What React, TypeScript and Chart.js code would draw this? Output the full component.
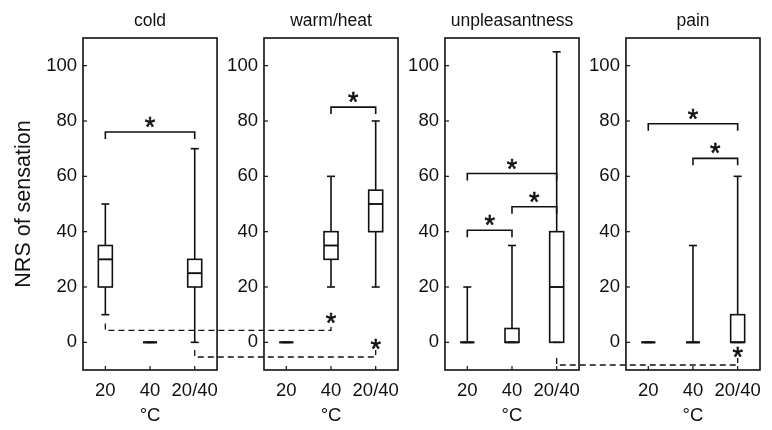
import React, { useEffect, useRef } from "react";
import { Chart, registerables } from "chart.js";

Chart.register(...registerables);

// ---------- data ----------
const panelTitles = ["cold", "warm/heat", "unpleasantness", "pain"];
const categories = ["20", "40", "20/40"];
const unitLabel = "°C";
const yAxisTitle = "NRS of sensation";
const yTickValues = [0, 20, 40, 60, 80, 100];
const yMin = -10;
const yMax = 110;

// [lower whisker, q1, median, q3, upper whisker] for 20, 40, 20/40
const coldStats = [
  [10, 20, 30, 35, 50],
  [0, 0, 0, 0, 0],
  [0, 20, 25, 30, 70],
];
const warmStats = [
  [0, 0, 0, 0, 0],
  [20, 30, 35, 40, 60],
  [20, 40, 50, 55, 80],
];
const unpleasantnessStats = [
  [0, 0, 0, 0, 20],
  [0, 0, 0, 5, 35],
  [0, 0, 20, 40, 105],
];
const painStats = [
  [0, 0, 0, 0, 0],
  [0, 0, 0, 0, 35],
  [0, 0, 0, 10, 60],
];
const panelStats = [coldStats, warmStats, unpleasantnessStats, painStats];

// significance brackets within a panel: [from category, to category, level]
const coldBrackets = [[0, 2, 76]];
const warmBrackets = [[1, 2, 85]];
const unpleasantnessBrackets = [
  [0, 2, 61],
  [1, 2, 49],
  [0, 1, 40.5],
];
const painBrackets = [
  [0, 2, 79],
  [1, 2, 66.5],
];
const panelBrackets = [coldBrackets, warmBrackets, unpleasantnessBrackets, painBrackets];

// comparisons across panels: [from panel, from category, to panel, to category, level]
const crossComparisons = [
  [0, 0, 1, 1, 4.3],
  [0, 2, 1, 2, -5.3],
  [2, 2, 3, 2, -8.2],
];

// ---------- layout / style ----------
const PANEL_STRIDE = 4.05;
const BOX_HALF_PX = 7;
const CAP_HALF_PX = 4;
const BRACKET_END = 2.5;
const FONT = "'Liberation Sans', Arial, Helvetica, sans-serif";
const INK = "#111";

const panelPlugin = {
  id: "boxPanels",
  afterDraw(chart: any) {
    const { ctx, chartArea } = chart;
    const xs = chart.scales.x;
    const ys = chart.scales.y;
    const catX = (p: number, c: number) => xs.getPixelForValue(p * PANEL_STRIDE + c + 1);
    const py = (v: number) => ys.getPixelForValue(v);
    const top = py(yMax);
    const bottom = py(yMin);

    ctx.save();
    ctx.strokeStyle = INK;
    ctx.fillStyle = INK;
    ctx.lineCap = "butt";

    const line = (x1: number, y1: number, x2: number, y2: number) => {
      ctx.beginPath();
      ctx.moveTo(x1, y1);
      ctx.lineTo(x2, y2);
      ctx.stroke();
    };

    const star = (cx: number, centerY: number) => {
      ctx.save();
      ctx.font = `27px ${FONT}`;
      ctx.textAlign = "center";
      ctx.textBaseline = "alphabetic";
      const m = ctx.measureText("*");
      const asc = m.actualBoundingBoxAscent;
      const desc = m.actualBoundingBoxDescent;
      const by = centerY + (asc - desc) / 2;
      ctx.lineWidth = 0.6;
      ctx.fillText("*", cx, by);
      ctx.strokeText("*", cx, by);
      ctx.restore();
    };

    panelTitles.forEach((title, p) => {
      const left = xs.getPixelForValue(p * PANEL_STRIDE + 0.5);
      const right = xs.getPixelForValue(p * PANEL_STRIDE + 3.5);
      const mid = (left + right) / 2;

      // frame
      ctx.lineWidth = 1.6;
      ctx.setLineDash([]);
      ctx.strokeRect(left, top, right - left, bottom - top);

      // y ticks + labels
      ctx.lineWidth = 1.2;
      ctx.font = `18.5px ${FONT}`;
      ctx.textAlign = "right";
      ctx.textBaseline = "middle";
      yTickValues.forEach((v) => {
        const yy = py(v);
        line(left, yy, left + 4, yy);
        ctx.fillText(String(v), left - 6, yy);
      });

      // x ticks + labels
      ctx.textAlign = "center";
      ctx.textBaseline = "alphabetic";
      categories.forEach((c, i) => {
        const cx = catX(p, i);
        line(cx, bottom, cx, bottom - 4);
        ctx.fillText(c, cx, bottom + 26);
      });
      ctx.fillText(unitLabel, catX(p, 1), bottom + 51);

      // title
      ctx.font = `17.5px ${FONT}`;
      ctx.fillText(title, mid, top - 12);

      // boxes
      ctx.lineWidth = 1.6;
      panelStats[p].forEach((s, i) => {
        const cx = catX(p, i);
        const [lo, q1, med, q3, hi] = s.map(py);
        line(cx, hi, cx, q3);
        line(cx, q1, cx, lo);
        line(cx - CAP_HALF_PX, hi, cx + CAP_HALF_PX, hi);
        line(cx - CAP_HALF_PX, lo, cx + CAP_HALF_PX, lo);
        ctx.strokeRect(cx - BOX_HALF_PX, q3, 2 * BOX_HALF_PX, q1 - q3);
        ctx.lineWidth = 1.9;
        line(cx - BOX_HALF_PX, med, cx + BOX_HALF_PX, med);
        ctx.lineWidth = 1.6;
      });

      // brackets
      panelBrackets[p].forEach(([a, b, lvl]) => {
        const xa = catX(p, a);
        const xb = catX(p, b);
        const yl = py(lvl);
        const ye = py(lvl - BRACKET_END);
        ctx.beginPath();
        ctx.moveTo(xa, ye);
        ctx.lineTo(xa, yl);
        ctx.lineTo(xb, yl);
        ctx.lineTo(xb, ye);
        ctx.stroke();
        star((xa + xb) / 2, yl - 10);
      });
    });

    // y axis title
    ctx.save();
    ctx.font = `21.5px ${FONT}`;
    ctx.textAlign = "center";
    ctx.textBaseline = "middle";
    ctx.translate(24, (chartArea.top + chartArea.bottom) / 2);
    ctx.rotate(-Math.PI / 2);
    ctx.fillText(yAxisTitle, 0, 0);
    ctx.restore();

    // dashed cross-panel comparisons
    ctx.lineWidth = 1.3;
    crossComparisons.forEach(([pa, ca, pb, cb, lvl]) => {
      const xa = catX(pa, ca);
      const xb = catX(pb, cb);
      const yl = py(lvl);
      const ye = py(lvl + BRACKET_END);
      ctx.setLineDash([6, 4]);
      ctx.beginPath();
      ctx.moveTo(xa, ye);
      ctx.lineTo(xa, yl);
      ctx.lineTo(xb, yl);
      ctx.lineTo(xb, ye);
      ctx.stroke();
      ctx.setLineDash([]);
      star(xb, ye - 6);
    });

    ctx.restore();
  },
};

export default function App() {
  const ref = useRef<HTMLCanvasElement>(null);
  useEffect(() => {
    const chart = new Chart(ref.current as HTMLCanvasElement, {
      type: "scatter",
      data: { datasets: [] },
      options: {
        responsive: false,
        animation: false,
        devicePixelRatio: 1,
        layout: { padding: { left: 83, right: 12, top: 38, bottom: 60 } },
        scales: {
          x: { type: "linear", min: 0.5, max: 3.5 + 3 * PANEL_STRIDE, display: false },
          y: { type: "linear", min: yMin, max: yMax, display: false },
        },
        plugins: { legend: { display: false }, tooltip: { enabled: false } },
      },
      plugins: [panelPlugin],
    } as any);
    return () => chart.destroy();
  }, []);
  return (
    <div style={{ position: "fixed", left: 0, top: 0, width: 772, height: 430, background: "#fff" }}>
      <canvas ref={ref} width={772} height={430} style={{ display: "block" }} />
    </div>
  );
}
